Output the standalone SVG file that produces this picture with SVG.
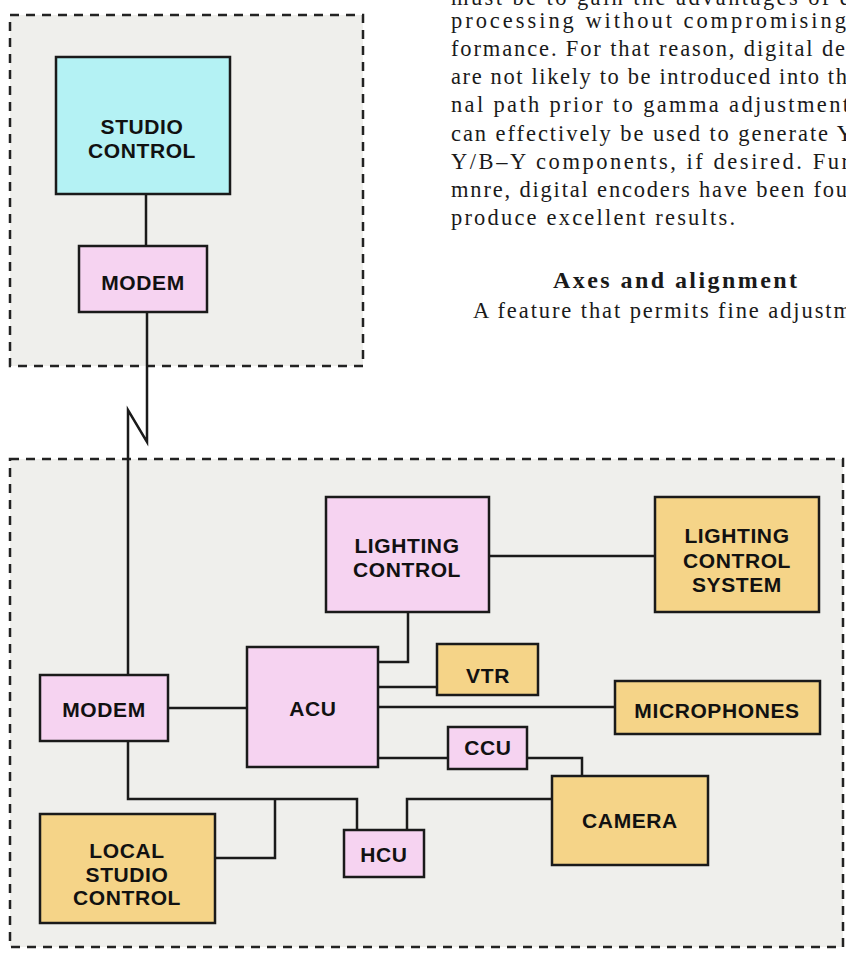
<svg xmlns="http://www.w3.org/2000/svg" width="846" height="957" viewBox="0 0 846 957">
<defs>
<style>
.region{fill:#efefec;stroke:#222;stroke-width:2.5;stroke-dasharray:9 7}
.box{stroke:#1a1a1a;stroke-width:2.5}
.cyan{fill:#b4f2f4}
.pink{fill:#f6d3f1}
.orange{fill:#f5d488}
.lbl{font-family:"Liberation Sans",Arial,sans-serif;font-weight:bold;font-size:21px;fill:#111;text-anchor:middle;letter-spacing:0.6px}
.body{font-family:"Liberation Serif","Times New Roman",serif;font-size:22.5px;fill:#1a1a1a}
.head{font-family:"Liberation Serif","Times New Roman",serif;font-size:24px;font-weight:bold;fill:#1a1a1a}
.wire{fill:none;stroke:#1a1a1a;stroke-width:2.5}
</style>
</defs>
<rect width="846" height="957" fill="#ffffff"/>
<g id="regions">
<rect class="region" x="10" y="15" width="353" height="351"/>
<rect class="region" x="10" y="459" width="833" height="488"/>
</g>
<g id="article-text">
<text class="body" x="451" y="5" textLength="400" lengthAdjust="spacing">must be to gain the advantages of d</text>
<text class="body" x="451" y="28" textLength="395" lengthAdjust="spacing">processing without compromising</text>
<text class="body" x="451" y="56" textLength="394" lengthAdjust="spacing">formance. For that reason, digital de</text>
<text class="body" x="451" y="84" textLength="396" lengthAdjust="spacing">are not likely to be introduced into th</text>
<text class="body" x="451" y="112" textLength="398" lengthAdjust="spacing">nal path prior to gamma adjustment</text>
<text class="body" x="451" y="141" textLength="402" lengthAdjust="spacing">can effectively be used to generate Y</text>
<text class="body" x="451" y="169" textLength="398" lengthAdjust="spacing">Y/B–Y components, if desired. Fur</text>
<text class="body" x="451" y="197" textLength="396" lengthAdjust="spacing">mnre, digital encoders have been fou</text>
<text class="body" x="451" y="225" textLength="284" lengthAdjust="spacing">produce excellent results.</text>
<text class="head" x="553" y="288" textLength="244" lengthAdjust="spacing">Axes and alignment</text>
<text class="body" x="473" y="318" textLength="378" lengthAdjust="spacing">A feature that permits fine adjustm</text>
</g>
<g id="connectors">
<path class="wire" d="M146,194 V246"/>
<path class="wire" d="M147,312 V442 L128,410 V675"/>
<path class="wire" d="M168,708 H247"/>
<path class="wire" d="M408,612 V662 H378"/>
<path class="wire" d="M378,687 H437"/>
<path class="wire" d="M378,707 H615"/>
<path class="wire" d="M378,758 H448"/>
<path class="wire" d="M527,758 H582 V776"/>
<path class="wire" d="M489,556 H655"/>
<path class="wire" d="M128,741 V799 H357 V830"/>
<path class="wire" d="M275,799 V858 H215"/>
<path class="wire" d="M407,830 V799 H552"/>
</g>
<g id="studio-control">
<rect class="box cyan" x="56" y="57" width="174" height="137"/>
<text class="lbl" x="142" y="134">STUDIO</text>
<text class="lbl" x="142" y="158">CONTROL</text>
</g>
<g id="modem-remote">
<rect class="box pink" x="79" y="246" width="128" height="66"/>
<text class="lbl" x="143" y="290">MODEM</text>
</g>
<g id="lighting-control">
<rect class="box pink" x="326" y="497" width="163" height="115"/>
<text class="lbl" x="407" y="553">LIGHTING</text>
<text class="lbl" x="407" y="577">CONTROL</text>
</g>
<g id="lighting-control-system">
<rect class="box orange" x="655" y="497" width="164" height="115"/>
<text class="lbl" x="737" y="543">LIGHTING</text>
<text class="lbl" x="737" y="568">CONTROL</text>
<text class="lbl" x="737" y="592">SYSTEM</text>
</g>
<g id="acu">
<rect class="box pink" x="247" y="647" width="131" height="120"/>
<text class="lbl" x="313" y="716">ACU</text>
</g>
<g id="vtr">
<rect class="box orange" x="437" y="644" width="101" height="51"/>
<text class="lbl" x="488" y="683">VTR</text>
</g>
<g id="microphones">
<rect class="box orange" x="615" y="681" width="205" height="53"/>
<text class="lbl" x="717" y="718">MICROPHONES</text>
</g>
<g id="ccu">
<rect class="box pink" x="448" y="727" width="79" height="42"/>
<text class="lbl" x="488" y="755">CCU</text>
</g>
<g id="modem-local">
<rect class="box pink" x="40" y="675" width="128" height="66"/>
<text class="lbl" x="104" y="717">MODEM</text>
</g>
<g id="camera">
<rect class="box orange" x="552" y="776" width="156" height="89"/>
<text class="lbl" x="630" y="828">CAMERA</text>
</g>
<g id="hcu">
<rect class="box pink" x="344" y="830" width="80" height="47"/>
<text class="lbl" x="384" y="862">HCU</text>
</g>
<g id="local-studio-control">
<rect class="box orange" x="40" y="814" width="175" height="109"/>
<text class="lbl" x="127" y="858">LOCAL</text>
<text class="lbl" x="127" y="882">STUDIO</text>
<text class="lbl" x="127" y="905">CONTROL</text>
</g>
</svg>
